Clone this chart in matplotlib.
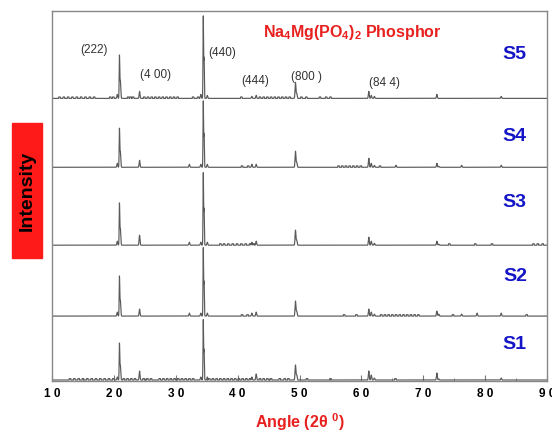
import numpy as np
import matplotlib
matplotlib.use("Agg")
import matplotlib.pyplot as plt
from matplotlib.patches import Rectangle

plt.rcParams['font.family'] = ['Liberation Sans', 'DejaVu Sans']
plt.rcParams['mathtext.fontset'] = 'custom'
plt.rcParams['mathtext.rm'] = 'Liberation Sans'
plt.rcParams['mathtext.bf'] = 'Liberation Sans:bold'
plt.rcParams['mathtext.it'] = 'Liberation Sans:italic'

# peak positions (2 theta) shared by all samples
peak_pos = [20.55, 20.9, 21.04, 24.15, 32.2, 34.05, 34.45, 34.58, 35.1, 42.3, 43.0,
            49.35, 49.55, 61.2, 61.6, 62.1, 65.6, 72.2, 72.5, 76.2, 78.7, 82.6]
# peak heights per sample
h_s5 = [4, 41, 18, 7, 0, 4, 82, 40, 3, 2, 3, 16, 5, 7, 3, 2, 0, 4, 0, 0, 0, 2]
h_s4 = [4, 37, 16, 7, 3, 3, 66, 33, 3, 3, 3, 16, 5, 9, 4, 2, 2, 4, 1, 2, 0, 2]
h_s3 = [4, 40, 17, 10, 3, 3, 72, 36, 3, 3, 4, 15, 5, 8, 4, 2, 0, 4, 1, 0, 0, 0]
h_s2 = [4, 38, 16, 7, 3, 3, 68, 34, 3, 3, 4, 15, 5, 7, 4, 2, 0, 5, 2, 2, 3, 3]
h_s1 = [3, 35, 15, 9, 0, 3, 60, 30, 3, 3, 6, 15, 5, 9, 5, 2, 0, 7, 1, 0, 0, 2]

# small step-like bumps near the baseline
n_s5 = [11.2, 11.9, 12.6, 13.3, 14.0, 14.7, 15.4, 16.1, 16.8, 19.4, 19.9, 22.3, 22.7,
        23.1, 24.9, 25.5, 26.1, 26.7, 27.3, 27.9, 28.5, 29.1, 29.7, 30.3, 32.8, 33.6,
        40.6, 43.6, 44.2, 44.8, 45.4, 46.0, 46.6, 47.2, 47.8, 48.4, 50.3, 51.1, 53.3,
        54.3, 55.0]
n_s4 = [40.7, 41.7, 56.3, 56.9, 57.5, 58.1, 58.7, 59.3, 59.9, 63.0]
n_s3 = [37.2, 37.8, 38.5, 39.2, 39.9, 40.6, 41.3, 42.0, 42.6, 74.2, 78.4, 81.1,
        87.8, 88.5, 89.3]
n_s2 = [40.7, 41.6, 57.2, 59.2, 63.2, 63.8, 64.4, 65.0, 65.6, 66.2, 66.8, 67.4, 68.0,
        68.6, 69.2, 74.8, 86.7]
n_s1 = [12.9, 13.6, 14.3, 15.0, 15.7, 16.4, 17.1, 17.8, 18.5, 19.2, 19.9, 21.6, 22.2,
        22.8, 23.4, 24.8, 25.4, 26.0, 27.4, 28.0, 28.6, 29.2, 29.8, 30.4, 31.0, 31.6,
        32.2, 32.8, 35.4, 36.0, 36.6, 37.2, 37.8, 38.4, 39.0, 39.6, 40.2, 40.8, 41.4,
        42.0, 43.6, 44.2, 44.8, 45.4, 46.8, 47.6, 48.2, 51.2, 55.0, 65.5]

names = ['S1', 'S2', 'S3', 'S4', 'S5']
offsets = [0, 64, 135, 213, 282]
heights = [h_s1, h_s2, h_s3, h_s4, h_s5]
noises = [n_s1, n_s2, n_s3, n_s4, n_s5]
label_y = [36, 104, 178, 244, 326]

hkl = ['(222)', '(4 00)', '(440)', '(444)', '(800 )', '(84 4)']
hkl_x = [16.8, 26.8, 37.5, 42.8, 51.2, 63.8]
hkl_y = [330, 305, 327, 299, 303, 297]

x = np.arange(10, 90.001, 0.01)

fig = plt.figure(figsize=(5.52, 4.32), dpi=100)
ax = fig.add_axes([52 / 552, 51 / 432, 495 / 552, 370 / 432])

for name, off, hs, ns in zip(names, offsets, heights, noises):
    y = np.zeros_like(x)
    for p, h in zip(peak_pos, hs):
        w = 0.045 if h > 20 else 0.07
        y += h * np.exp(-0.5 * ((x - p) / w) ** 2)
    for p in ns:
        y += 1.4 * (np.abs(x - p) < 0.13)
    ax.plot(x, y + off, color='#5a5a5a', lw=0.85)

for name, ly in zip(names, label_y):
    ax.text(84.8, ly, name, color='#1515c8', fontsize=14, fontweight='bold',
            ha='center', va='center')

for t, tx, ty in zip(hkl, hkl_x, hkl_y):
    ax.text(tx, ty, t, color='#333333', fontsize=8.5, ha='center', va='center')

ax.text(58.5, 348, r'Na$_\mathbf{4}$Mg(PO$_\mathbf{4}$)$_\mathbf{2}$ Phosphor',
        color='#e8201e', fontsize=11.5, fontweight='bold', ha='center', va='center')

ax.set_xlim(10, 90)
ax.set_ylim(-1, 369.5)
ax.set_yticks([])
ax.set_xticks(range(10, 91, 10))
ax.set_xticklabels([' '.join(str(v)) for v in range(10, 91, 10)],
                   fontsize=8.5, fontweight='bold')
ax.set_xticks(range(15, 90, 10), minor=True)
ax.tick_params(axis='x', which='major', direction='in', length=4, color='#777777', pad=5)
ax.tick_params(axis='x', which='minor', direction='in', length=2.5, color='#777777')
for s in ax.spines.values():
    s.set_color('#888888')
    s.set_linewidth(1)

ax.set_xlabel(r'Angle (2θ $^\mathbf{0}$)', color='#e8201e', fontsize=11.5,
              fontweight='bold', labelpad=8)

fig.patches.append(Rectangle((12 / 552, 174 / 432), 30 / 552, 135 / 432,
                             transform=fig.transFigure, color='#ff1a1a', zorder=0))
fig.text(27 / 552, 241 / 432, 'Intensity', rotation=90, fontsize=14,
         fontweight='bold', color='black', ha='center', va='center')

fig.savefig('out.png', dpi=100)
